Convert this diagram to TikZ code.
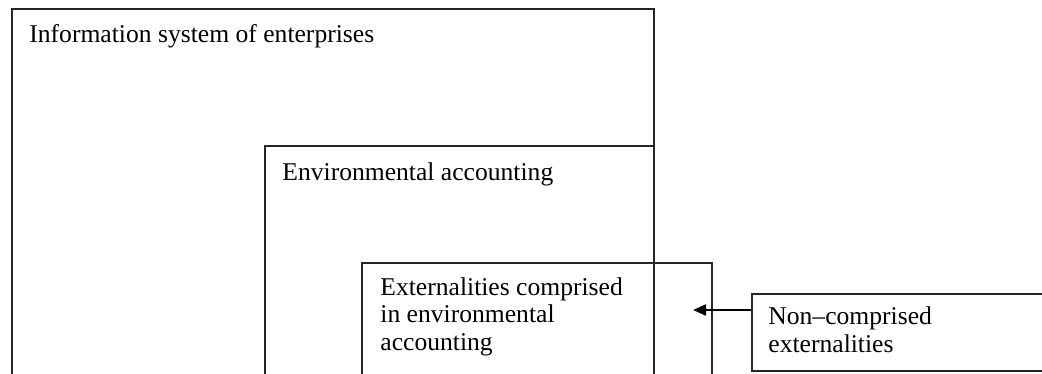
\documentclass[tikz,border=0pt]{standalone}
\usepackage{fontspec}
\setmainfont{Liberation Serif}
\usetikzlibrary{positioning}
\usetikzlibrary{arrows.meta}
\tikzset{
    x=0.5pt, y=-0.5pt,
    frame/.style={
        draw=black!85,
        line width=0.9pt
    },
    boxtext/.style={
        anchor=base west,
        inner sep=0pt,
        align=left,
        font=\fontsize{12.8}{13.75}\selectfont
    },
    pointer/.style={
        draw=black,
        line width=1.1pt,
        -{Triangle[length=6.5pt,width=5.5pt]}
    }
}

\begin{document}
\begin{tikzpicture}
    \useasboundingbox (0,0) rectangle (1042,374);
    \clip (0,0) rectangle (1042,374);

    % nested boxes, cut off at the bottom
    \draw[frame] (12,420) |- (654,9) -- (654,420);
    \draw[frame] (265,420) |- (654,146);
    \draw[frame] (362,420) |- (712,263) -- (712,420);
    \node[frame, anchor=north west, minimum width=160pt, minimum height=38.5pt] (noncomp) at (751,293) {};

    % multi-line texts sit on the baseline of their last line
    \node[boxtext] (info) at (29,43) {Information system of enterprises};
    \node[boxtext] (envacc) at (282,180) {Environmental accounting};
    \node[boxtext] (extcomp) at (380,350) {Externalities comprised\\in environmental\\accounting};
    \node[boxtext] (extnon) at (768,352) {Non--comprised\\externalities};

    \coordinate (tip) at (693,310);
    \draw[pointer] (noncomp.west |- tip) -- (tip);
\end{tikzpicture}
\end{document}
